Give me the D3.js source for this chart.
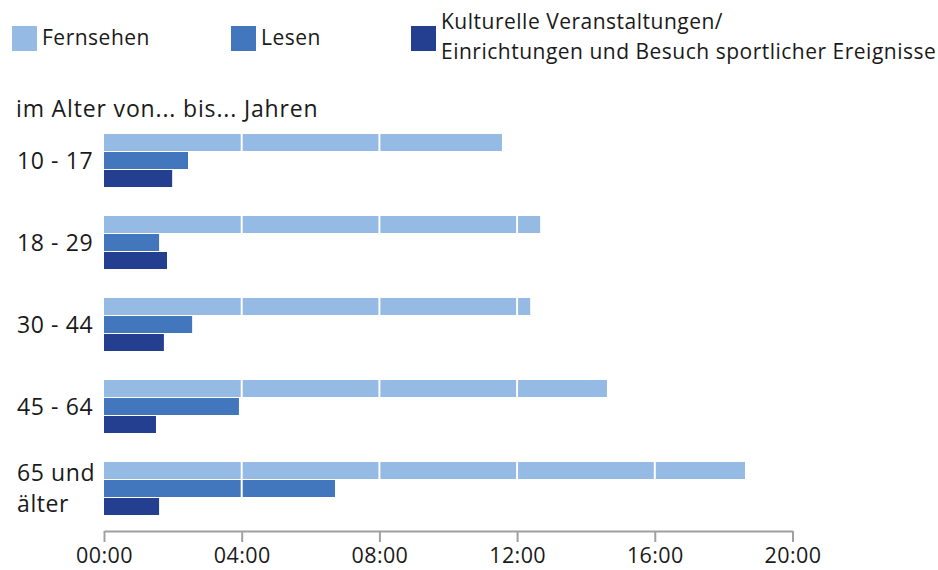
<!DOCTYPE html>
<html><head><meta charset="utf-8">
<script src="https://cdn.jsdelivr.net/npm/d3@7"></script>
<style>
html,body{margin:0;padding:0;background:#fff;}
svg{display:block;font-family:"Open Sans",sans-serif;}
</style></head>
<body><svg id="c" width="938" height="570"></svg>
<script>
const categories = ["10 - 17","18 - 29","30 - 44","45 - 64","65 und älter"];
const seriesNames = ["Fernsehen","Lesen","Kulturelle Veranstaltungen/ Einrichtungen und Besuch sportlicher Ereignisse"];
const fernsehen = [11.56, 12.67, 12.38, 14.61, 18.62];
const lesen     = [2.44, 1.60, 2.56, 3.92, 6.71];
const kultur    = [1.98, 1.83, 1.74, 1.51, 1.60];
const tickValues = [0,4,8,12,16,20];
const colors = ["#95bae3","#4277bd","#243f8f"];

const svg = d3.select("#c");
const textColor = "#1a1a1a";
const FONT = "'Open Sans',sans-serif";
const series = [fernsehen, lesen, kultur];

const x = d3.scaleLinear().domain([0,20]).range([104,792.5]);
const y = d3.scaleBand().domain(categories).range([134,516]).paddingInner(28/82).paddingOuter(0);
const yi = d3.scaleBand().domain([0,1,2]).range([0,y.bandwidth()]);

const g = svg.append("g");
categories.forEach((c,ci)=>{
  series.forEach((s,si)=>{
    g.append("rect")
      .attr("x", x(0))
      .attr("y", y(c)+yi(si))
      .attr("width", x(s[ci])-x(0))
      .attr("height", yi.step()-1)
      .attr("fill", colors[si]);
  });
});

svg.append("g").selectAll("line").data([4,8,12,16]).join("line")
  .attr("x1",d=>x(d)).attr("x2",d=>x(d))
  .attr("y1",y.range()[0]).attr("y2",y.range()[1])
  .attr("stroke","#fff").attr("stroke-width",2);

const ax = svg.append("g").attr("transform","translate(0,531)")
  .call(d3.axisBottom(x).tickValues(tickValues).tickSize(11).tickSizeOuter(0)
    .tickFormat(d=>String(d).padStart(2,"0")+":00"));
ax.select(".domain").attr("stroke","#a0a0a0").attr("stroke-width",2);
ax.selectAll(".tick line").attr("stroke","#a0a0a0").attr("stroke-width",2);
ax.selectAll(".tick text").attr("fill",textColor).attr("font-size",21.5)
  .attr("letter-spacing",0.4)
  .attr("font-family",FONT).attr("dy","0.95em").attr("y",12);

categories.forEach((c)=>{
  const cy = y(c)+yi(1)+ (yi.step()-1)/2;
  const parts = c === "65 und älter" ? ["65 und","älter"] : [c];
  const t = svg.append("text").attr("x",17).attr("fill",textColor).attr("font-size",23).attr("letter-spacing",0.6);
  if(parts.length===1){
    t.attr("y",cy).attr("dy","0.35em").text(parts[0]);
  } else {
    parts.forEach((p,i)=>t.append("tspan").attr("x",17).attr("y",cy+(i-0.5)*31).attr("dy","0.35em").text(p));
  }
});

svg.append("text").attr("x",16).attr("y",117).attr("fill",textColor).attr("font-size",23).attr("letter-spacing",0.85)
  .text("im Alter von... bis... Jahren");

const legendX = [12,231,411];
seriesNames.forEach((n,i)=>{
  svg.append("rect").attr("x",legendX[i]).attr("y",26).attr("width",25).attr("height",25).attr("fill",colors[i]);
  const t = svg.append("text").attr("fill",textColor).attr("font-size",21).attr("letter-spacing",0.5);
  if(i<2){
    t.attr("x",legendX[i]+30).attr("y",45).text(n);
  } else {
    t.append("tspan").attr("x",legendX[i]+30).attr("y",29).text("Kulturelle Veranstaltungen/");
    t.append("tspan").attr("x",legendX[i]+30).attr("y",58.5).text("Einrichtungen und Besuch sportlicher Ereignisse");
  }
});
</script></body></html>
